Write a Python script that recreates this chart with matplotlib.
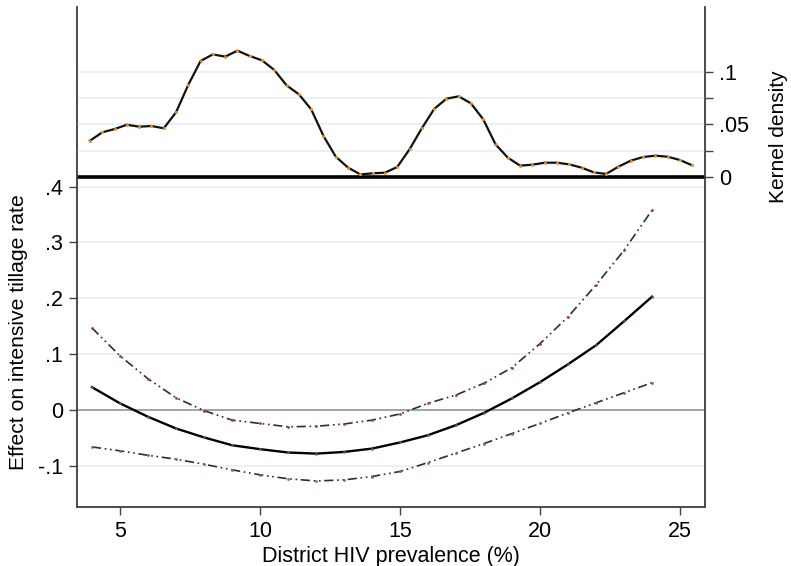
import numpy as np
import matplotlib.pyplot as plt

plt.rcParams['font.family'] = ['Liberation Sans', 'DejaVu Sans']

# kernel density of district HIV prevalence (50 evaluation points)
dens_x = np.linspace(3.93, 25.43, 50)
dens_y = [0.0345, 0.0425, 0.0456, 0.0497, 0.0478, 0.0485, 0.0463, 0.0615, 0.0877, 0.1103,
          0.1166, 0.1144, 0.1201, 0.1150, 0.1109, 0.1017, 0.0871, 0.0786, 0.0643, 0.0390,
          0.0193, 0.0089, 0.0025, 0.0035, 0.0041, 0.0095, 0.0263, 0.0463, 0.0646, 0.0744,
          0.0767, 0.0700, 0.0548, 0.0311, 0.0184, 0.0108, 0.0117, 0.0136, 0.0136, 0.0120,
          0.0089, 0.0044, 0.0029, 0.0098, 0.0155, 0.0190, 0.0203, 0.0193, 0.0162, 0.0111]

# marginal effect and 95% CI
hiv = np.arange(4, 25)
effect = [0.041, 0.012, -0.012, -0.033, -0.049, -0.063, -0.070, -0.076, -0.078, -0.075, -0.069,
          -0.058, -0.045, -0.027, -0.005, 0.021, 0.050, 0.082, 0.116, 0.159, 0.203]
ci_hi = [0.147, 0.097, 0.056, 0.022, -0.001, -0.018, -0.024, -0.030, -0.029, -0.025, -0.018,
         -0.007, 0.012, 0.027, 0.048, 0.076, 0.119, 0.167, 0.224, 0.286, 0.358]
ci_lo = [-0.066, -0.073, -0.081, -0.088, -0.097, -0.107, -0.116, -0.123, -0.127, -0.125, -0.119,
         -0.110, -0.094, -0.077, -0.060, -0.042, -0.024, -0.005, 0.013, 0.031, 0.049]

fig = plt.figure(figsize=(7.91, 5.66), dpi=100)
ax = fig.add_axes([0.0973, 0.1048, 0.794, 0.8828])
ax2 = ax.twinx()

grid_c = '#e6eef2'
spine_c = '#444444'
dash = (0, (5.5, 2.2, 1, 2.2, 1, 2.2))

ax.set_xlim(3.464, 25.89)
ax.set_ylim(-0.173, 0.7215)
ax2.set_ylim(-0.3134, 0.1616)

for v in [-0.1, 0.1, 0.2, 0.3, 0.4]:
    ax.axhline(v, color=grid_c, lw=1.2, zorder=0)
for v in [0.025, 0.05, 0.075, 0.1]:
    ax2.axhline(v, color=grid_c, lw=1.2, zorder=0)
ax.axhline(0, color='#8a8a8a', lw=1.1, zorder=1)
ax2.axhline(0, color='black', lw=2.6, zorder=2)

ax.plot(hiv, ci_hi, color='#2e2e2e', lw=1.2, linestyle=dash, zorder=3)
ax.plot(hiv, ci_hi, 'o', color='#b03a3a', ms=1.0, zorder=4)
ax.plot(hiv, ci_lo, color='#2e2e2e', lw=1.2, linestyle=dash, zorder=3)
ax.plot(hiv, ci_lo, 'o', color='#5a8a3a', ms=1.0, zorder=4)
ax.plot(hiv, effect, color='black', lw=1.7, zorder=3)
ax.plot(hiv, effect, 'o', color='#3a6ea5', ms=0.9, zorder=4)

ax2.plot(dens_x, dens_y, color='#111111', lw=1.6, zorder=3)
ax2.plot(dens_x, dens_y, 'o', color='#e8912d', ms=1.2, zorder=4)

ax.set_yticks([-0.1, 0, 0.1, 0.2, 0.3, 0.4])
ax.set_yticklabels(['-.1', '0', '.1', '.2', '.3', '.4'])
ax2.set_yticks([0, 0.025, 0.05, 0.075, 0.1])
ax2.set_yticklabels(['0', '', '.05', '', '.1'])
ax.set_xticks([5, 10, 15, 20, 25])

for a in (ax, ax2):
    a.spines['top'].set_visible(False)
    for s in ('left', 'right', 'bottom'):
        a.spines[s].set_color(spine_c)
        a.spines[s].set_linewidth(1.1)
    a.tick_params(length=6, width=1.0, color=spine_c, labelsize=15.5, pad=4)

ax.set_xlabel('District HIV prevalence (%)', fontsize=15.5, labelpad=3)
fig.text(19 / 791, 1 - 332 / 566, 'Effect on intensive tillage rate', rotation=90,
         ha='center', va='center', fontsize=15.2)
fig.text(778 / 791, 1 - 137 / 566, 'Kernel density', rotation=90,
         ha='center', va='center', fontsize=15)

fig.savefig('out.png', dpi=100)
